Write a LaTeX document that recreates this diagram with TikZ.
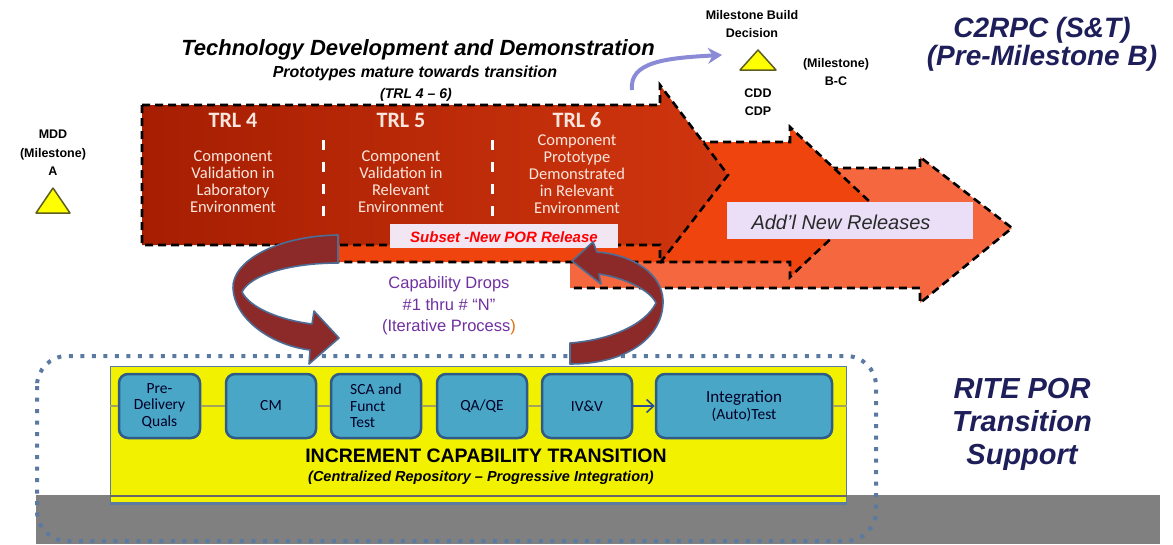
\documentclass[tikz,border=0pt]{standalone}
\usepackage{fontspec}
\setmainfont{Liberation Sans}
\newfontfamily\carl{Carlito}
\usetikzlibrary{arrows.meta}
\definecolor{navy}{HTML}{1E1E5A}
\definecolor{trlL}{HTML}{A61E02}
\definecolor{trlR}{HTML}{D0360E}
\definecolor{arrB}{HTML}{F0440F}
\definecolor{arrC}{HTML}{F5673F}
\definecolor{ribred}{HTML}{8C2A2A}
\definecolor{ribedge}{HTML}{4D6D96}
\definecolor{ylw}{HTML}{F2F200}
\definecolor{boxfill}{HTML}{4AA6C6}
\definecolor{boxedge}{HTML}{2E5B88}
\definecolor{khaki}{HTML}{A3A35A}
\definecolor{framec}{HTML}{5A7AA2}
\definecolor{purp}{HTML}{7030A0}
\definecolor{lav}{HTML}{EADFF6}
\definecolor{lavR}{HTML}{F3E6F3}
\definecolor{msarrow}{HTML}{8A8AD6}
\definecolor{trltext}{HTML}{FBE6DD}
\definecolor{tri}{HTML}{FFFF00}
\definecolor{triedge}{HTML}{5E5E22}
\definecolor{bandgray}{HTML}{808080}
\definecolor{arrowblue}{HTML}{2B4C9A}
\definecolor{addltext}{HTML}{2A2A2A}
\definecolor{orng}{HTML}{E46C0A}
\newcommand\myfs[2]{\fontsize{#1}{#2}\selectfont}
\begin{document}
\begin{tikzpicture}[x=1pt,y=-1pt,
  lbl/.style={inner sep=0pt, align=center},
  dashedge/.style={draw=black, line width=2.6pt, dash pattern=on 8pt off 5pt, line join=miter},
  ribbon/.style={fill=ribred, draw=ribedge, line width=1.6pt, line join=round},
  stepbox/.style={draw=boxedge, line width=2.5pt, fill=boxfill, rounded corners=9pt,
     minimum height=64pt, inner sep=2pt, align=center, font=\carl\myfs{15.5}{16.5}, text={black!85!blue}},
  trlhead/.style={lbl, text=trltext, font=\carl\bfseries\myfs{22}{24}},
  trldesc/.style={lbl, text=trltext, font=\carl\myfs{16.5}{17}},
  mstxt/.style={lbl, font=\bfseries\myfs{12.5}{18.5}},
  bigtxt/.style={lbl, text=navy, font=\bfseries\itshape\myfs{28}{28}},
  tritri/.style={fill=tri, draw=triedge, line width=1.5pt, line join=round},
  sep/.style={white, line width=3pt, dash pattern=on 10pt off 12pt}
]
\useasboundingbox (0,0) rectangle (1173,544);

% grey band at the bottom
\fill[bandgray] (36,495) rectangle (1160,544);

% dotted frame
\draw[framec, line width=4pt, dash pattern=on 4pt off 7.5pt, rounded corners=30pt] (37,356) rectangle (876,541);

% yellow panel
\node[draw=framec, line width=1pt, fill=ylw, minimum width=736pt, minimum height=137pt, inner sep=0pt] (yl) at (478,434.5) {};
\draw[bandgray!80!black, line width=1.5pt] (yl.west |- 0,496) -- (yl.east |- 0,496);
\draw[framec, line width=2.5pt] (yl.south west) -- (yl.south east);

% process boxes
\node[stepbox, minimum width=81pt] (b1) at (159.5,406) {Pre-\\Delivery\\Quals};
\node[stepbox, minimum width=90pt] (b2) at (271,406) {CM};
\node[stepbox, minimum width=90pt, align=left] (b3) at (376,406) {SCA and\\Funct\\Test};
\node[stepbox, minimum width=90pt] (b4) at (482,406) {QA/QE};
\node[stepbox, minimum width=90pt] (b5) at (587,406) {IV\&V};
\node[stepbox, minimum width=176pt] (b6) at (744,406) {{\myfs{17}{22}Integration}\\(Auto)Test};

\draw[khaki, line width=2.5pt] (yl.west |- b1.west) -- (b1.west);
\draw[khaki, line width=2.5pt] (b1) -- (b2);
\draw[khaki, line width=2.5pt] (b2) -- (b3);
\draw[khaki, line width=2.5pt] (b3) -- (b4);
\draw[khaki, line width=2.5pt] (b4) -- (b5);
\draw[khaki, line width=2.5pt] (b6.east) -- (yl.east |- b6.east);
\draw[arrowblue, line width=1.6pt, -{Straight Barb[length=7pt,width=13pt]}] (b5) -- (b6);

\node[lbl, font=\bfseries\myfs{19.5}{20}] (inc) at (486,456) {INCREMENT CAPABILITY TRANSITION};
\node[lbl, font=\bfseries\itshape\myfs{14.5}{16}] (cent) at (481,478) {(Centralized Repository – Progressive Integration)};

% big release arrows
\fill[arrC] (570,168) -- (920,168) -- (920,157) -- (1012,228) -- (920,303) -- (920,288) -- (570,288) -- cycle;
\draw[dashedge] (570,168) -- (920,168) -- (920,157) -- (1012,228) -- (920,303) -- (920,288) -- (570,288);
\fill[arrB] (320,142) -- (790,142) -- (790,127) -- (870,202) -- (790,277) -- (790,262) -- (320,262) -- cycle;
\draw[dashedge] (320,142) -- (790,142) -- (790,127) -- (870,202) -- (790,277) -- (790,262) -- (320,262);
\shade[left color=trlL, right color=trlR] (142,105) -- (660,105) -- (660,85) -- (728,175) -- (660,263) -- (660,245) -- (142,245) -- cycle;
\draw[dashedge] (142,105) -- (660,105) -- (660,85) -- (728,175) -- (660,263) -- (660,245) -- (142,245) -- cycle;

% TRL contents
\node[trlhead] (trl4) at (233,120) {TRL 4};
\node[trlhead] (trl5) at (401,120) {TRL 5};
\node[trlhead] (trl6) at (577,120) {TRL 6};
\node[trldesc, anchor=north] (d4) at (233,151) {Component\\Validation in\\Laboratory\\Environment};
\node[trldesc, anchor=north] (d5) at (401,151) {Component\\Validation in\\Relevant\\Environment};
\node[trldesc, anchor=north] (d6) at (577,135) {Component\\Prototype\\Demonstrated\\in Relevant\\Environment};
\draw[sep] (323,140) -- (323,216);
\draw[sep] (492,140) -- (492,216);

% label boxes
\node[fill=lavR, minimum width=228pt, minimum height=24pt, inner sep=0pt] (sub) at (504,236) {};
\node[lbl, text=red, font=\bfseries\itshape\myfs{15}{16}] (subt) at (504,237) {Subset -New POR Release};
\node[fill=lav, minimum width=246pt, minimum height=37pt, inner sep=0pt] (addl) at (850,220.5) {};
\node[lbl, text=addltext, font=\itshape\myfs{20}{22}] (addlt) at (841,222) {Add'l New Releases};

% curved iteration ribbons
\draw[ribbon] (338,235) .. controls (275,236) and (232,262) .. (233,288)
   .. controls (234,318) and (270,345) .. (310,350) -- (309,364) -- (339,338) -- (314,311) -- (312,324)
   .. controls (280,320) and (250,308) .. (242,292) .. controls (250,275) and (290,263) .. (338,263) -- cycle;
\draw[ribbon] (570,364) .. controls (630,364) and (664,335) .. (663,300)
   .. controls (662,275) and (635,255) .. (597,252) -- (593,242) -- (572,261) -- (601,284) -- (599,274)
   .. controls (625,278) and (650,290) .. (656,303) .. controls (645,325) and (610,340) .. (570,343) -- cycle;

\node[lbl, text=purp, font=\myfs{16.5}{21.5}] (cap) at (449,306) {Capability Drops\\\#1 thru \# “N”\\(Iterative Process\textcolor{orng}{)}};

% titles
\node[lbl, font=\bfseries\itshape\myfs{22}{22}] (title) at (418,50) {Technology Development and Demonstration};
\node[lbl, font=\bfseries\itshape\myfs{16}{16}] (sub1) at (415,73) {Prototypes mature towards transition};
\node[lbl, font=\bfseries\itshape\myfs{14}{14}] (sub2) at (416,95) {(TRL 4 – 6)};

% milestones
\node[mstxt] (mdd) at (53,153) {MDD\\(Milestone)\\A};
\draw[tritri] (53,188) -- (70,213) -- (36,213) -- cycle;
\coordinate (mddtri) at (53,200);

\node[mstxt] (mbd) at (752,24) {Milestone Build\\Decision};
\draw[tritri] (758,50) -- (776,70) -- (740,70) -- cycle;
\coordinate (bctri) at (722,55);
\node[mstxt] (bc) at (836,72) {(Milestone)\\B-C};
\node[mstxt] (cdd) at (758,102) {CDD\\CDP};
\coordinate (mstart) at (632,90);
\draw[msarrow, line width=4pt, -{Stealth[length=14pt,width=16pt]}] (mstart) .. controls (629,62) and (665,58) .. (bctri);

% side captions
\node[bigtxt] (c2) at (1042,44) {C2RPC (S\&T)\\(Pre-Milestone B)};
\node[bigtxt, font=\bfseries\itshape\myfs{29}{33}] (rite) at (1022,424) {RITE POR\\Transition\\Support};
\end{tikzpicture}
\end{document}
